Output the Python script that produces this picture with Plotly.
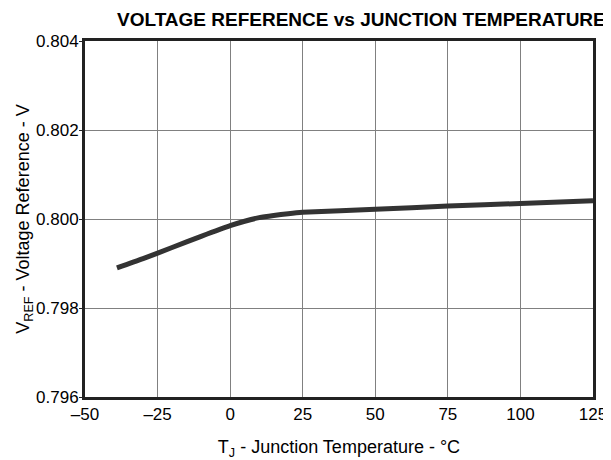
import plotly.graph_objects as go

temp_c = [-39, -30, -20, -10, 0, 5, 10, 15, 20, 25, 50, 75, 100, 125]
vref_v = [0.79890, 0.79911, 0.79936, 0.79961, 0.79985, 0.79995, 0.80003,
          0.80008, 0.80012, 0.80015, 0.80022, 0.80029, 0.80035, 0.80041]

x_ticks = [-50, -25, 0, 25, 50, 75, 100, 125]
x_tick_labels = ["\u201350", "\u201325", "0", "25", "50", "75", "100", "125"]
y_ticks = [0.796, 0.798, 0.800, 0.802, 0.804]
y_tick_labels = ["0.796", "0.798", "0.800", "0.802", "0.804"]

fig = go.Figure()
fig.add_trace(go.Scatter(
    x=temp_c, y=vref_v, mode="lines",
    line=dict(color="#333333", width=5, shape="spline", smoothing=0.6),
    showlegend=False,
))

# page body has an 8px default margin, so the figure is sized 603x452
W, H = 603, 452
font = "Liberation Sans, Arial, sans-serif"
fig.update_layout(
    width=W, height=H,
    margin=dict(l=77, r=18, t=33, b=63),
    paper_bgcolor="white", plot_bgcolor="white",
    font=dict(family=font, size=17, color="black"),
    title=dict(text="<b>VOLTAGE REFERENCE vs JUNCTION TEMPERATURE</b>",
               x=109 / W, xanchor="left", xref="container",
               y=1 - 11 / H, yanchor="middle", yref="container",
               font=dict(family=font, size=19, color="black")),
)
fig.update_xaxes(
    range=[-50, 125], tickvals=x_ticks, ticktext=x_tick_labels,
    showgrid=True, gridcolor="#808080", gridwidth=1,
    showline=True, linecolor="#222222", linewidth=3, mirror=True,
    ticks="", zeroline=False, automargin=False, ticklabeloverflow="allow",
    title=dict(text="T<sub>J</sub> - Junction Temperature - \u00b0C",
               font=dict(size=18), standoff=20),
    tickfont=dict(size=17),
)
fig.update_yaxes(
    range=[0.796, 0.804], tickvals=y_ticks, ticktext=y_tick_labels,
    showgrid=True, gridcolor="#808080", gridwidth=1,
    showline=True, linecolor="#222222", linewidth=3, mirror=True,
    ticks="outside", ticklen=3, tickcolor="#222222", zeroline=False,
    automargin=False, ticklabelstandoff=-3,
    title=dict(text="V<sub>REF</sub> - Voltage Reference - V",
               font=dict(size=18), standoff=1),
    tickfont=dict(size=17),
)

fig.write_html("out.html")
